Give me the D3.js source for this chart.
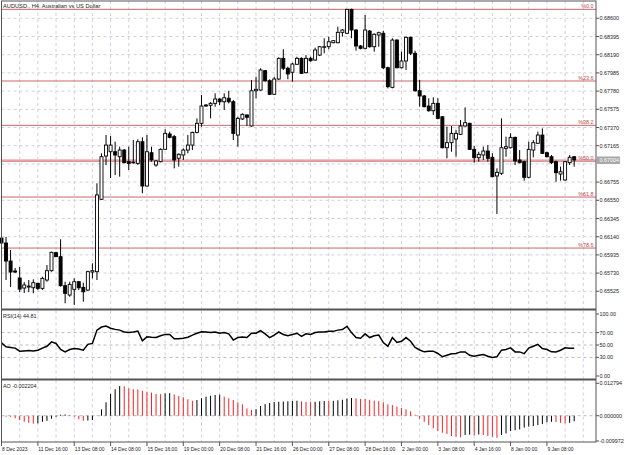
<!DOCTYPE html>
<html>
<head>
<meta charset="utf-8">
<script src="https://cdn.jsdelivr.net/npm/d3@7"></script>
<style>
  body { margin: 0; background: #fff; }
  svg { display: block; font-family: "Liberation Sans", Arial, sans-serif; }
</style>
</head>
<body>
<div id="chart"></div>
<script>
const width = 625, height = 455;

const title = 'AUDUSD., H4: Australian vs US Dollar';

// H4 candles, one entry per bar
const opens = [0.66125,0.66069,0.65866,0.65754,0.65675,0.65562,0.65573,0.65565,0.65615,0.65558,
  0.65652,0.65757,0.65960,0.65915,0.65588,0.65483,0.65547,0.65633,0.65569,0.65539,
  0.65742,0.65746,0.66561,0.67049,0.67097,0.67097,0.67041,0.67116,0.66985,0.66974,
  0.66966,0.67210,0.66711,0.67086,0.66947,0.66985,0.67124,0.67297,0.67267,0.67023,
  0.67060,0.67116,0.67172,0.67315,0.67417,0.67612,0.67620,0.67642,0.67691,0.67660,
  0.67699,0.67660,0.67285,0.67466,0.67511,0.67387,0.67784,0.67792,0.68010,0.67897,
  0.67744,0.67916,0.68149,0.68037,0.67992,0.68082,0.68149,0.67987,0.68149,0.68130,
  0.68186,0.68273,0.68280,0.68325,0.68325,0.68442,0.68431,0.68701,0.68468,0.68288,
  0.68262,0.68457,0.68280,0.68412,0.68431,0.68043,0.67822,0.68355,0.68043,0.68119,
  0.68386,0.68206,0.67784,0.67725,0.67612,0.67559,0.67642,0.67491,0.67142,0.67199,
  0.67240,0.67293,0.67387,0.67417,0.67124,0.67030,0.67060,0.67105,0.67034,0.66824,
  0.66854,0.67135,0.67142,0.67259,0.67004,0.66985,0.66809,0.67116,0.67192,0.67285,
  0.67086,0.67041,0.66985,0.66846,0.66779,0.66974,0.67041];
const highs = [0.66147,0.66136,0.65990,0.65788,0.65799,0.65629,0.65652,0.65660,0.65622,0.65689,
  0.65821,0.65971,0.65971,0.66111,0.65633,0.65633,0.65671,0.65641,0.65622,0.65757,
  0.65840,0.66742,0.67079,0.67285,0.67274,0.67210,0.67154,0.67127,0.67154,0.67229,
  0.67237,0.67259,0.67285,0.67154,0.67004,0.67135,0.67349,0.67323,0.67285,0.67079,
  0.67135,0.67285,0.67323,0.67473,0.67736,0.67635,0.67657,0.67755,0.67699,0.67755,
  0.67784,0.67680,0.67491,0.67530,0.67518,0.67905,0.67942,0.68037,0.68018,0.67913,
  0.67942,0.68160,0.68251,0.68055,0.68100,0.68167,0.68160,0.68186,0.68167,0.68269,
  0.68288,0.68375,0.68393,0.68355,0.68505,0.68479,0.68701,0.68708,0.68476,0.68299,
  0.68637,0.68468,0.68431,0.68449,0.68460,0.68055,0.68375,0.68363,0.68224,0.68393,
  0.68393,0.68235,0.67905,0.67736,0.67699,0.67710,0.67699,0.67499,0.67379,0.67387,
  0.67342,0.67454,0.67597,0.67424,0.67161,0.67097,0.67154,0.67172,0.67079,0.66910,
  0.67473,0.67267,0.67304,0.67267,0.67116,0.66997,0.67210,0.67229,0.67323,0.67360,
  0.67097,0.67060,0.66997,0.66929,0.66993,0.67060,0.67049];
const lows = [0.66047,0.65652,0.65573,0.65731,0.65516,0.65505,0.65516,0.65502,0.65539,0.65539,
  0.65633,0.65746,0.65911,0.65577,0.65390,0.65464,0.65371,0.65539,0.65408,0.65531,
  0.65671,0.65652,0.66553,0.66947,0.66801,0.66835,0.66816,0.66966,0.66891,0.66966,
  0.66947,0.66629,0.66703,0.66985,0.66929,0.66978,0.67116,0.67248,0.66910,0.66929,
  0.67004,0.67079,0.67116,0.67304,0.67379,0.67604,0.67473,0.67604,0.67623,0.67567,
  0.67642,0.67229,0.67154,0.67454,0.67387,0.67379,0.67699,0.67784,0.67886,0.67736,
  0.67736,0.67905,0.68018,0.67913,0.67886,0.68074,0.67973,0.67980,0.68111,0.68122,
  0.68175,0.68206,0.68251,0.68318,0.68318,0.68393,0.68423,0.68375,0.68235,0.68251,
  0.68251,0.68269,0.68224,0.68280,0.68029,0.67811,0.67811,0.68037,0.68037,0.68018,
  0.68186,0.67773,0.67604,0.67597,0.67548,0.67511,0.67462,0.67135,0.67023,0.67097,
  0.67041,0.67285,0.67379,0.67116,0.66974,0.66985,0.67004,0.66985,0.66809,0.66396,
  0.66835,0.67041,0.67135,0.66947,0.66966,0.66771,0.66797,0.67034,0.67184,0.67071,
  0.67034,0.66959,0.66759,0.66771,0.66771,0.66947,0.66929];
const closes = [0.66069,0.65866,0.65742,0.65742,0.65550,0.65596,0.65584,0.65622,0.65558,0.65671,
  0.65757,0.65964,0.65915,0.65588,0.65502,0.65603,0.65633,0.65565,0.65520,0.65746,
  0.65757,0.66610,0.67041,0.67172,0.67172,0.67060,0.67116,0.66974,0.66966,0.66978,
  0.67210,0.66711,0.67097,0.67004,0.66993,0.67124,0.67304,0.67259,0.67004,0.67068,
  0.67116,0.67172,0.67315,0.67417,0.67612,0.67623,0.67642,0.67691,0.67660,0.67706,
  0.67660,0.67304,0.67473,0.67518,0.67485,0.67784,0.67800,0.68018,0.67897,0.67744,
  0.67916,0.68149,0.68037,0.67973,0.68085,0.68149,0.67980,0.68149,0.68122,0.68243,
  0.68280,0.68280,0.68336,0.68348,0.68442,0.68468,0.68701,0.68468,0.68288,0.68262,
  0.68468,0.68280,0.68420,0.68438,0.68043,0.67830,0.68355,0.68043,0.68119,0.68386,
  0.68206,0.67784,0.67725,0.67604,0.67559,0.67642,0.67473,0.67142,0.67199,0.67304,
  0.67304,0.67387,0.67424,0.67124,0.67030,0.67068,0.67105,0.67023,0.66816,0.66865,
  0.67142,0.67154,0.67259,0.66993,0.66974,0.66809,0.67124,0.67199,0.67285,0.67079,
  0.67041,0.66974,0.66861,0.66872,0.66985,0.67034,0.67004];

const rsi = [53.5,47,46,45,40,40.5,41,40.5,41.5,45,
  48,55,52.5,42.8,39,42.8,44.4,43.5,41.7,51,
  52.5,74,79,80.5,77,75.2,74,71,70.3,71,
  72.4,56.7,63.2,62.5,62,65,67.1,67,60,60,
  61,62.5,66,69,71.3,71,70,71,69,70,
  68,58,62,63,62,69,69,73,68,62,
  66,71,67,65,67,69,64,68,67,70,
  71,71,72,72,74,75,80,70,62,61,
  68,62,65,66,54,48,62,54,56,62,
  56,46,42,39,40,40,36.3,31,33.5,36,
  36.3,38.9,38.9,33.5,32,33.5,34.7,32,30,31,
  41.7,42.8,45.4,38.9,38.9,36,45,48,51,44.4,
  42.8,39,38.9,41.5,45.4,44.8,44.81];

const ao = [0.0003,-0.0004,-0.0004,-0.0010,-0.0017,-0.0024,-0.0028,-0.0031,-0.0030,-0.0024,
  -0.0020,-0.0012,-0.0004,0.0004,0.0005,0.0003,-0.0004,-0.0014,-0.0020,-0.0019,
  -0.0017,-0.0001,0.0025,0.0053,0.0086,0.0104,0.0117,0.0116,0.0108,0.0105,
  0.0104,0.0098,0.0095,0.0091,0.0086,0.0085,0.0088,0.0089,0.0084,0.0078,
  0.0073,0.0065,0.0059,0.0062,0.0069,0.0075,0.0079,0.0082,0.0083,0.0075,
  0.0069,0.0062,0.0053,0.0045,0.0029,0.0023,0.0026,0.0038,0.0046,0.0050,
  0.0054,0.0055,0.0056,0.0057,0.0058,0.0059,0.0056,0.0055,0.0054,0.0055,
  0.0057,0.0058,0.0058,0.0059,0.0061,0.0063,0.0068,0.0070,0.0069,0.0066,
  0.0066,0.0063,0.0060,0.0058,0.0053,0.0045,0.0042,0.0036,0.0030,0.0025,
  0.0017,0.0004,-0.0012,-0.0024,-0.0037,-0.0050,-0.0060,-0.0067,-0.0072,-0.0080,
  -0.0083,-0.0085,-0.0076,-0.0075,-0.0077,-0.0074,-0.0076,-0.0080,-0.0083,-0.0087,
  -0.0076,-0.0070,-0.0060,-0.0057,-0.0054,-0.0047,-0.0043,-0.0041,-0.0037,-0.0033,
  -0.0026,-0.0024,-0.0025,-0.0028,-0.0030,-0.0028,-0.002204];

const dateLabels = ['8 Dec 2023','11 Dec 16:00','13 Dec 08:00','14 Dec 08:00','15 Dec 16:00',
  '19 Dec 00:00','20 Dec 08:00','21 Dec 16:00','26 Dec 00:00','27 Dec 08:00','28 Dec 16:00',
  '2 Jan 00:00','3 Jan 08:00','4 Jan 16:00','8 Jan 00:00','9 Jan 08:00'];
const priceTicks = [0.68600,0.68395,0.68190,0.67985,0.67780,0.67575,0.67370,0.67165,
  0.66960,0.66755,0.66550,0.66345,0.66140,0.65935,0.65730,0.65525];
const rsiTicks = [100, 70, 50, 30, 0];
const rsiLevels = [70, 50, 30];
const aoTicks = [0.012794, 0, -0.009972];
const fibLevels = [0, 23.6, 38.2, 50, 61.8, 78.6];
const fibHigh = 0.68701, fibLow = 0.65280;

// layout
const left = 1.5, right = 596;
const mainTop = 1, mainBottom = 308.5;
const rsiTop = 310.5, rsiBottom = 378.5;
const aoTop = 380.5, aoBottom = 442;
const gridCol = '#cfd0e2', frameCol = '#555', fibCol = '#cc6666';

const svg = d3.select('#chart').append('svg')
  .attr('width', width)
  .attr('height', height);

const n = closes.length;
const last = closes[n - 1];
const x = d3.scaleLinear().domain([0, n - 1]).range([1.5, 574.2]);
const y = d3.scaleLinear().domain([0.65525, 0.68600]).range([291.3, 18.3]);
const yRsi = d3.scaleLinear().domain([0, 100]).range([376, 314]);
const yAo = d3.scaleLinear().domain([-0.009972, 0.012794]).range([441, 383.3]);

// vertical grid every 4 bars, in all three panels
const gridIdx = d3.range(0, n + 3, 4);
[[mainTop, mainBottom], [rsiTop, rsiBottom], [aoTop, aoBottom]].forEach(([t, b]) => {
  svg.append('g').selectAll('line')
    .data(gridIdx)
    .enter().append('line')
      .attr('x1', d => x(d)).attr('x2', d => x(d))
      .attr('y1', t).attr('y2', b)
      .attr('stroke', gridCol)
      .attr('stroke-dasharray', '3,3');
});

svg.append('g').selectAll('line')
  .data(priceTicks)
  .enter().append('line')
    .attr('x1', left).attr('x2', right)
    .attr('y1', d => y(d)).attr('y2', d => y(d))
    .attr('stroke', gridCol)
    .attr('stroke-dasharray', '3,3');

svg.append('g').selectAll('line')
  .data(rsiLevels)
  .enter().append('line')
    .attr('x1', left).attr('x2', right)
    .attr('y1', d => yRsi(d)).attr('y2', d => yRsi(d))
    .attr('stroke', '#b8b8c8')
    .attr('stroke-dasharray', '3,3');

svg.append('line')
  .attr('x1', left).attr('x2', right)
  .attr('y1', yAo(0)).attr('y2', yAo(0))
  .attr('stroke', '#b8b8c8')
  .attr('stroke-dasharray', '3,3');

// fibonacci levels
const fibPrice = lv => fibHigh - (fibHigh - fibLow) * lv / 100;
svg.append('line')
  .attr('x1', left).attr('x2', right)
  .attr('y1', y(last)).attr('y2', y(last))
  .attr('stroke', '#f2c4c4').attr('stroke-width', 2);
svg.append('g').selectAll('line')
  .data(fibLevels)
  .enter().append('line')
    .attr('x1', left).attr('x2', right)
    .attr('y1', d => y(fibPrice(d))).attr('y2', d => y(fibPrice(d)))
    .attr('stroke', fibCol);
svg.append('g').selectAll('text')
  .data(fibLevels)
  .enter().append('text')
    .attr('x', 593.5)
    .attr('y', d => y(fibPrice(d)) - 1.5)
    .attr('text-anchor', 'end')
    .style('font-size', '5.4px')
    .attr('fill', '#c04848')
    .text(d => '%' + d.toFixed(1));

// candles
const bars = d3.range(n);
svg.append('g').selectAll('line')
  .data(bars)
  .enter().append('line')
    .attr('x1', i => x(i)).attr('x2', i => x(i))
    .attr('y1', i => y(highs[i])).attr('y2', i => y(lows[i]))
    .attr('stroke', '#000');
svg.append('g').selectAll('rect')
  .data(bars)
  .enter().append('rect')
    .attr('x', i => x(i) - 1.5)
    .attr('y', i => y(Math.max(opens[i], closes[i])))
    .attr('width', 3)
    .attr('height', i => Math.max(Math.abs(y(opens[i]) - y(closes[i])), 0.6))
    .attr('fill', i => closes[i] >= opens[i] ? '#fff' : '#000')
    .attr('stroke', '#000')
    .attr('stroke-width', 0.9);

// RSI
svg.append('path')
  .datum(rsi)
  .attr('fill', 'none')
  .attr('stroke', '#000')
  .attr('stroke-width', 1.5)
  .attr('d', d3.line().x((d, i) => x(i)).y(d => yRsi(d)));

// AO histogram
svg.append('g').selectAll('line')
  .data(ao)
  .enter().append('line')
    .attr('x1', (d, i) => x(i)).attr('x2', (d, i) => x(i))
    .attr('y1', yAo(0)).attr('y2', d => yAo(d))
    .attr('stroke', (d, i) => i > 0 && d > ao[i - 1] ? '#000' : '#ff2020')
    .attr('stroke-width', 1);

// frames
svg.append('rect')
  .attr('x', left).attr('y', mainTop)
  .attr('width', right - left).attr('height', aoBottom - mainTop)
  .attr('fill', 'none').attr('stroke', frameCol);
[309.5, 379.5].forEach(v => {
  svg.append('line')
    .attr('x1', left).attr('x2', right)
    .attr('y1', v).attr('y2', v)
    .attr('stroke', frameCol).attr('stroke-width', 2);
});

// right axes
const axisText = (g, data, scale, fmt) => {
  g.selectAll('line').data(data).enter().append('line')
    .attr('x1', right).attr('x2', right + 3)
    .attr('y1', d => scale(d)).attr('y2', d => scale(d))
    .attr('stroke', frameCol);
  g.selectAll('text').data(data).enter().append('text')
    .attr('x', right + 3.5)
    .attr('y', d => scale(d) + 2)
    .style('font-size', '5.4px')
    .attr('fill', '#222')
    .text(fmt);
};
// the price tick that sits under the bid marker is hidden by it
axisText(svg.append('g'), priceTicks.filter(d => Math.abs(y(d) - y(last)) > 6), y, d => d.toFixed(5));
axisText(svg.append('g'), rsiTicks, yRsi, d => d.toFixed(2));
axisText(svg.append('g'), aoTicks, yAo, d => d.toFixed(6));

// current price marker
svg.append('rect')
  .attr('x', right + 1).attr('y', y(last) - 3.5)
  .attr('width', 23).attr('height', 7.5)
  .attr('fill', '#a8a8a8');
svg.append('text')
  .attr('x', right + 3.5).attr('y', y(last) + 2)
  .style('font-size', '5.4px')
  .attr('fill', '#fff')
  .text(last.toFixed(5));

// time axis
const labelIdx = dateLabels.map((d, k) => k * 8);
svg.append('g').selectAll('line')
  .data(labelIdx)
  .enter().append('line')
    .attr('x1', i => x(i)).attr('x2', i => x(i))
    .attr('y1', aoBottom).attr('y2', aoBottom + 4)
    .attr('stroke', frameCol);
svg.append('g').selectAll('text')
  .data(dateLabels)
  .enter().append('text')
    .attr('x', (d, k) => x(labelIdx[k]) + 0.5)
    .attr('y', 451)
    .style('font-size', '5px')
    .attr('fill', '#222')
    .text(d => d);

// panel titles
svg.append('text')
  .attr('x', 3).attr('y', 8)
  .style('font-size', '5.7px')
  .attr('fill', '#222')
  .text(title);
svg.append('text')
  .attr('x', 3).attr('y', 317.5)
  .style('font-size', '5.4px')
  .attr('fill', '#222')
  .text('RSI(14) ' + rsi[n - 1].toFixed(2));
svg.append('text')
  .attr('x', 3).attr('y', 387.5)
  .style('font-size', '5.4px')
  .attr('fill', '#222')
  .text('AO ' + ao[n - 1].toFixed(6));
</script>
</body>
</html>
